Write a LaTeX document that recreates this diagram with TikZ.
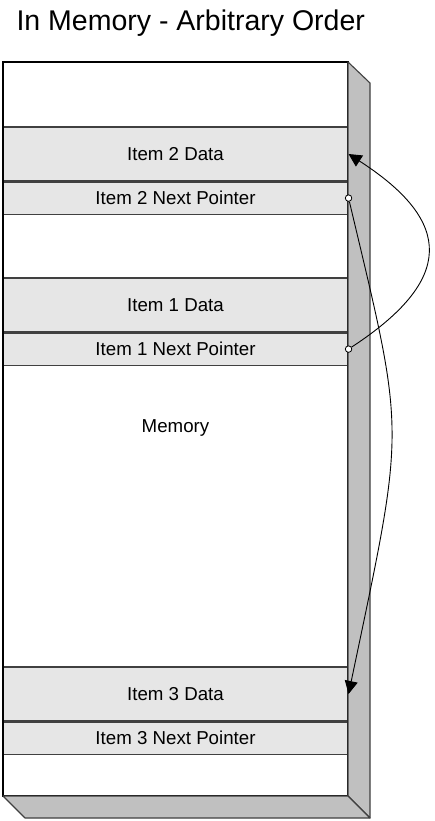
\documentclass[tikz,border=0pt]{standalone}
\usepackage{fontspec}
\setmainfont{Liberation Sans}
\usepackage{tikz}
\usetikzlibrary{arrows.meta, positioning, calc}
\usepackage{xcolor}

\definecolor{bandgray}{RGB}{230,230,230}
\definecolor{sidegray}{RGB}{192,192,192}

\begin{document}
\begin{tikzpicture}[
  x=1pt, y=-1pt,
  data/.style  = {draw=black!75, fill=bandgray, line width=1.1pt,
                  minimum width=345pt, minimum height=54pt, inner sep=0pt,
                  font=\fontsize{18.7}{22}\selectfont},
  nptr/.style  = {draw=black!75, fill=bandgray, line width=1.1pt,
                  minimum width=345pt, minimum height=32pt, inner sep=0pt,
                  font=\fontsize{18.7}{22}\selectfont},
  face/.style  = {fill=sidegray, draw=black!75, line width=1.1pt, line join=round},
  dot/.style   = {circle, draw, fill=white, inner sep=0pt, minimum size=6.5pt, line width=0.8pt},
  arr/.style   = {-{Triangle[length=13pt, width=13pt]}, line width=0.9pt},
  node distance = 0pt,
]
\useasboundingbox (0,0) rectangle (434,821);

% ── Title ────────────────────────────────────────────────────────────────────
\node[font=\fontsize{28.5}{34}\selectfont, anchor=base west] (title) at (13,31)
      {In Memory - Arbitrary Order};

% ── Memory block ─────────────────────────────────────────────────────────────
\draw[fill=white, draw=none] (3,62) rectangle (348,796);

\node[data] (i2data) at (175.5,154) {Item 2 Data};
\node[nptr, below=of i2data] (i2next) {Item 2 Next Pointer};

\node[data] (i1data) at (175.5,305) {Item 1 Data};
\node[nptr, below=of i1data] (i1next) {Item 1 Next Pointer};

\node[data] (i3data) at (175.5,694) {Item 3 Data};
\node[nptr, below=of i3data] (i3next) {Item 3 Next Pointer};

\node[font=\fontsize{18.7}{22}\selectfont] (mem) at (175.5,428) {Memory};

\draw[line width=1.3pt] (3,62) rectangle (348,796);

% ── 3D faces ─────────────────────────────────────────────────────────────────
\draw[face] (348,62) -- (370,83) -- (370,818) -- (348,796) -- cycle;
\draw[face] (3,796) -- (348,796) -- (370,818) -- (25,818) -- cycle;

% ── Next pointers ────────────────────────────────────────────────────────────
\node[dot] (p2) at (i2next.east) {};
\node[dot] (p1) at (i1next.east) {};

\draw[arr] (p1) .. controls (454,280) and (454,222) .. (i2data.east);
\draw[arr] (p2) .. controls (406,440) and (406,420) .. (i3data.east);

\end{tikzpicture}
\end{document}
